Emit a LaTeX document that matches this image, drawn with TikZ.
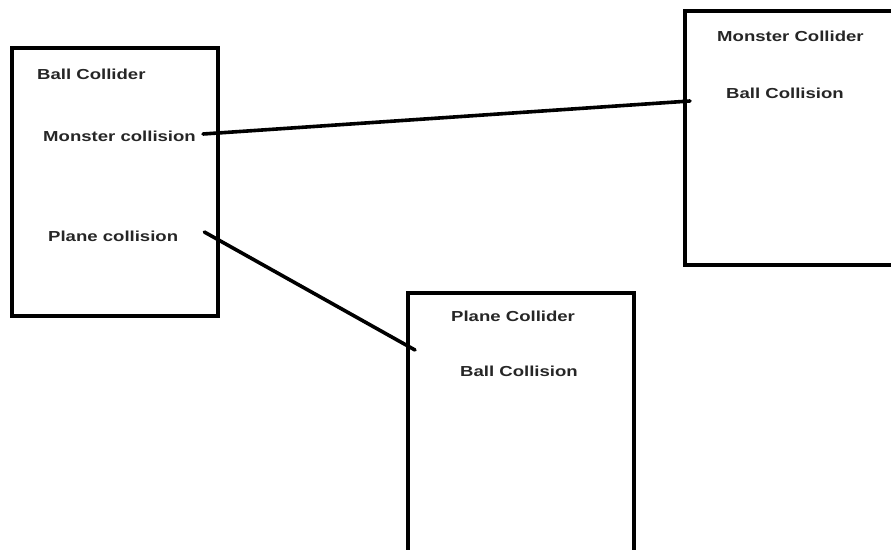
\documentclass[tikz,border=0pt]{standalone}
\usepackage{fontspec}
\setmainfont[FakeStretch=1.28]{Liberation Sans}
\begin{document}
\begin{tikzpicture}[x=1pt,y=-1pt,
  box/.style={draw=black, line width=3.6pt, anchor=north west, inner sep=0pt},
  lbl/.style={anchor=west, inner sep=0pt, font=\fontsize{14.5}{16}\selectfont\bfseries, text=black!85},
  conn/.style={draw=black, line width=3.6pt, line cap=round}]
\useasboundingbox[fill=white] (0,0) rectangle (891,549);
% boxes
\node[box, minimum width=206pt, minimum height=268pt] (ballbox) at (10,46) {};
\node[box, minimum width=220pt, minimum height=254pt] (monbox) at (683,9) {};
\node[box, minimum width=226pt, minimum height=270pt] (planebox) at (406,291) {};
% labels
\node[lbl] (bc) at (37,74) {Ball Collider};
\node[lbl] (mc) at (43,136) {Monster collision};
\node[lbl] (pc) at (48,236) {Plane collision};
\node[lbl] (mcol) at (717,36) {Monster Collider};
\node[lbl] (bcol1) at (726,93) {Ball Collision};
\node[lbl] (pcol) at (451,316) {Plane Collider};
\node[lbl] (bcol2) at (460,371) {Ball Collision};
% connector ends
\coordinate (e1) at (690,101);
\coordinate (e2) at (415,350);
\draw[conn] ([xshift=7pt,yshift=2pt]mc.east) -- (e1);
\draw[conn] ([xshift=26pt,yshift=4pt]pc.east) -- (e2);
\end{tikzpicture}
\end{document}
